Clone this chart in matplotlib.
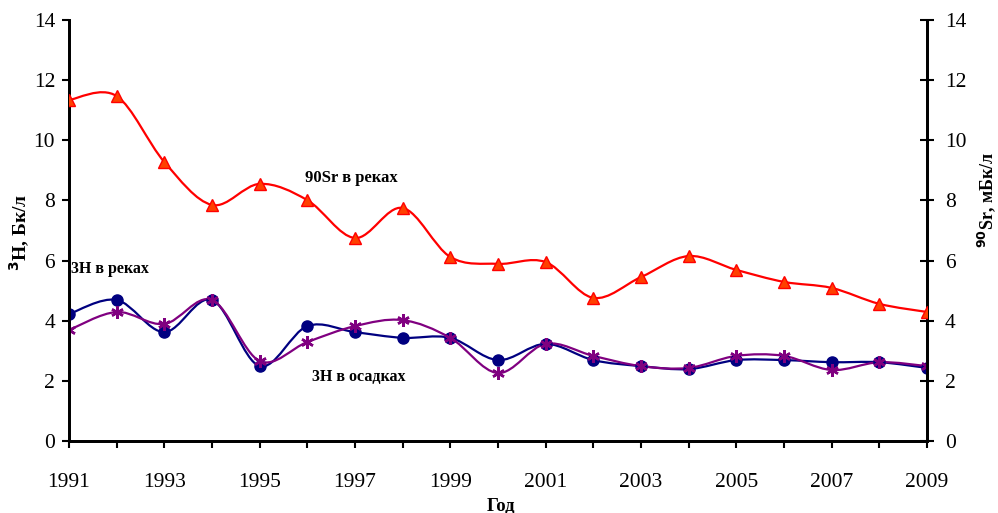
import numpy as np
import matplotlib
matplotlib.use("Agg")
import matplotlib.pyplot as plt
from matplotlib.path import Path
from matplotlib.patches import PathPatch

plt.rcParams['font.family'] = ['Liberation Serif', 'DejaVu Serif']

years = list(range(1991, 2010))
sr90_rivers = [11.34, 11.47, 9.28, 7.85, 8.55, 8.01, 6.75, 7.75, 6.12, 5.89,
               5.95, 4.76, 5.45, 6.15, 5.69, 5.29, 5.09, 4.56, 4.29]
h3_rivers = [4.22, 4.69, 3.62, 4.69, 2.49, 3.82, 3.62, 3.43, 3.43, 2.69,
             3.23, 2.69, 2.49, 2.39, 2.69, 2.69, 2.62, 2.62, 2.43]
h3_precip = [3.69, 4.29, 3.89, 4.69, 2.66, 3.29, 3.82, 4.02, 3.43, 2.26,
             3.23, 2.83, 2.49, 2.43, 2.83, 2.83, 2.36, 2.62, 2.49]


def smooth_path(x, y):
    # Catmull-Rom style bezier through the points (spreadsheet "smoothed line")
    x = np.asarray(x, float)
    y = np.asarray(y, float)
    verts = [(x[0], y[0])]
    codes = [Path.MOVETO]
    n = len(x)
    for i in range(n - 1):
        i0 = max(i - 1, 0)
        i3 = min(i + 2, n - 1)
        c1 = (x[i] + (x[i + 1] - x[i0]) / 6, y[i] + (y[i + 1] - y[i0]) / 6)
        c2 = (x[i + 1] - (x[i3] - x[i]) / 6, y[i + 1] - (y[i3] - y[i]) / 6)
        verts += [c1, c2, (x[i + 1], y[i + 1])]
        codes += [Path.CURVE4] * 3
    return Path(verts, codes)


fig = plt.figure(figsize=(9.98, 5.13), dpi=100)
ax = fig.add_axes([0.0691, 0.1404, 0.8597, 0.8206])
ax2 = ax.twinx()

for axis in (ax, ax2):
    axis.set_xlim(1991, 2009)
    axis.set_ylim(0, 14)
    axis.spines['top'].set_visible(False)
    for s in axis.spines.values():
        s.set_linewidth(2)

ax.add_patch(PathPatch(smooth_path(years, h3_rivers), fill=False,
                       edgecolor='#000080', lw=1.6, zorder=3))
ax.plot(years, h3_rivers, ls='none', marker='o', ms=8,
        mfc='#000080', mec='#000080', zorder=4)
ax.add_patch(PathPatch(smooth_path(years, h3_precip), fill=False,
                       edgecolor='#800080', lw=1.6, zorder=3))
ax.plot(years, h3_precip, ls='none', marker=(6, 2, 0), ms=9,
        mec='#800080', mew=1.8, zorder=4)
ax2.add_patch(PathPatch(smooth_path(years, sr90_rivers), fill=False,
                        edgecolor='#FF0000', lw=1.6, zorder=3))
ax2.plot(years, sr90_rivers, ls='none', marker='^', ms=8,
         mfc='#FF4000', mec='#FF0000', zorder=4)

ax.set_xticks(years[::2])
ax.set_xticks(years, minor=True)
ax.set_yticks(range(0, 15, 2))
ax2.set_yticks(range(0, 15, 2))
ax.tick_params(axis='x', which='both', direction='out', length=5, width=1.5,
               labelsize=15.5, pad=18)
ax.tick_params(axis='y', direction='out', length=5, width=1.5, labelsize=15.5, pad=5)
ax2.tick_params(axis='y', direction='inout', length=10, width=1.5, labelsize=15.5, pad=8)

ax.set_xlabel('Год', fontsize=13.5, fontweight='bold')
ax.xaxis.set_label_coords(0.503, -0.135)
ax.set_ylabel(r'$^{\mathbf{3}}$H, Бк/л', fontsize=14, fontweight='bold')
ax.yaxis.set_label_coords(-0.043, 0.496)
ax2.set_ylabel(r'$^{\mathbf{90}}$Sr, мБк/л', fontsize=13, fontweight='bold')
ax2.yaxis.set_label_coords(1.056, 0.572)

ax.text(1991.05, 5.6, '3H в реках', fontsize=11.5, fontweight='bold')
ax.text(1995.95, 8.6, '90Sr в реках', fontsize=12, fontweight='bold')
ax.text(1996.1, 2.0, '3H в осадках', fontsize=11.5, fontweight='bold')

fig.savefig('out.png', dpi=100)
